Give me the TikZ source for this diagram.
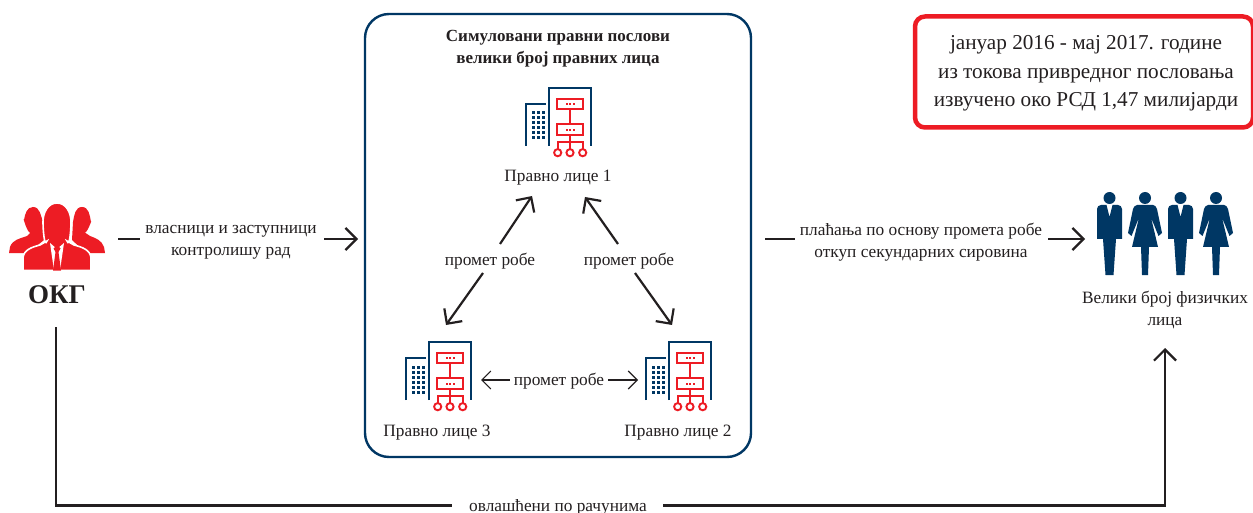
\documentclass[tikz,border=0pt]{standalone}
\usepackage{fontspec}
\setmainfont{Liberation Serif}
\usetikzlibrary{arrows.meta}
\definecolor{navy}{HTML}{003764}
\definecolor{redc}{HTML}{ED1C24}
\definecolor{ink}{HTML}{231F20}
\tikzset{
  x=1pt,y=-1pt,
  lab/.style={font=\fontsize{17.3}{22}\selectfont,text=ink,align=center,inner sep=0pt},
  conn/.style={draw=ink,line width=2.2pt,-{Straight Barb[length=11pt,width=22pt,line width=2.2pt]}},
  thin conn/.style={draw=ink,line width=1.1pt,-{Straight Barb[length=9pt,width=18pt,line width=1.1pt]}},
  stub/.style={draw=ink,line width=2.2pt},
  office/.pic={
    \draw[navy,line width=2.4pt] (0,58)--(0,0)--(42,0)--(42,58);
    \draw[navy,line width=2.4pt] (-23,58)--(-23,16)--(-3,16);
    \foreach \a in {-16,-11,-6}\foreach \b in {25,30,35,40,45,50}{\fill[navy] (\a-1.5,\b-1.5) rectangle (\a+1.5,\b+1.5);}
    \draw[redc,line width=1.9pt] (8,10.7) rectangle (34,20.7) (8,36) rectangle (34,47);
    \draw[redc,line width=1.9pt] (21,20.7)--(21,36) (21,47)--(21,61) (8.7,61)--(8.7,53.7)--(33.7,53.7)--(33.7,61);
    \foreach \a in {17.5,21,24.5}{\fill[redc] (\a-1,15)rectangle(\a+1,17);\fill[redc] (\a-1,41)rectangle(\a+1,43);}
    \foreach \a in {8.7,21,33.7}{\draw[redc,line width=1.9pt,fill=white] (\a,64.7) circle (3.6);}
  },
  man/.pic={
    \fill[navy] (0,-7) circle (6);
    \fill[navy] (-12.5,4) arc (180:270:4)--(-3,0)--(0,12)--(3,0)--(8.5,0) arc (270:360:4)--(12.5,34)--(6.5,34)--(4,70)--(-4,70)--(-6.5,34)--(-12.5,34)--cycle;
  },
  woman/.pic={
    \fill[navy] (0,-7) circle (6);
    \fill[navy] (-8,0)--(8,0) to[out=0,in=115] (12,4)--(17,28)--(13.5,31)--(6,12.5)--(13,42)--(4,42)--(3,70)--(-3,70)--(-4,42)--(-13,42)--(-6,12.5)--(-13.5,31)--(-17,28)--(-12,4) to[out=65,in=180] (-8,0)--cycle;
  }
}
\begin{document}
\begin{tikzpicture}
\useasboundingbox (0,0) rectangle (1253,513);
\fill[white] (0,0) rectangle (1253,513);
% central panel
\node[draw=navy,line width=2.4pt,rounded corners=24pt,minimum width=386pt,minimum height=443pt,inner sep=0pt] (panel) at (558,235.5) {};
\node[lab,font=\fontsize{17}{22}\selectfont\bfseries] (title) at (558,48.5) {Симуловани правни послови\\велики број правних лица};
% note box
\node[draw=redc,line width=4.5pt,rounded corners=10pt,minimum width=338pt,minimum height=111pt,inner sep=0pt] (note) at (1084,72) {};
\node[lab,font=\fontsize{21.2}{28.5}\selectfont] (notetext) at (1086,73.5) {јануар 2016 - мај 2017. године\\из токова привредног пословања\\извучено око РСД 1,47 милијарди};
% buildings
\pic at (549,88) {office};
\pic at (429,342) {office};
\pic at (669,342) {office};
\node[lab] (e1) at (558,178) {Правно лице 1};
\node[lab] (e3) at (437,433) {Правно лице 3};
\node[lab] (e2) at (678,433) {Правно лице 2};
% triangle
\node[lab] (t1) at (490,261) {промет робе};
\node[lab] (t2) at (629,261) {промет робе};
\node[lab,outer sep=4pt] (t3) at (559,381) {промет робе};
\coordinate (a1) at (532,196); \coordinate (a3) at (446,325);
\coordinate (b1) at (585,197); \coordinate (b2) at (672,325);
\coordinate (a1s) at (500,244); \coordinate (a3s) at (483,273);
\coordinate (b1s) at (618,244); \coordinate (b2s) at (635,273);
\draw[conn] (a1s) -- (a1);
\draw[conn] (a3s) -- (a3);
\draw[conn] (b1s) -- (b1);
\draw[conn] (b2s) -- (b2);
\coordinate (c3) at (481,380); \coordinate (c2) at (638,380);
\draw[thin conn] (t3.west |- c3) -- (c3);
\draw[thin conn] (t3.east |- c2) -- (c2);
% OKG
\fill[redc] (9,253) -- (10,247) to[out=70,in=200] (27,236) -- (31,232) to[out=-120,in=110] (24,220) to[out=80,in=180] (33,207) to[out=0,in=110] (43,222) -- (44,240) -- (28,253) -- cycle;
\fill[redc] (105,253) -- (104,247) to[out=110,in=-20] (90,236) -- (84,232) to[out=-60,in=70] (91,222) to[out=100,in=0] (82,207) to[out=180,in=80] (73,222) -- (72,240) -- (86,253) -- cycle;
\fill[redc,draw=white,line width=1.6pt] (23,270.5) -- (23,258) to[out=85,in=195] (40,245) -- (47,241) to[out=-110,in=-90] (43,222) to[out=90,in=180] (57,203) to[out=0,in=90] (71,222) to[out=-90,in=-70] (67,241) -- (74,245) to[out=-15,in=95] (91,258) -- (91,270.5) -- cycle;
\fill[white] (50,243) -- (57,249) -- (64,243) -- (60,270.5) -- (54,270.5) -- cycle;
\fill[redc] (57,245) -- (60.5,248.5) -- (58.5,252) -- (61,270.5) -- (53,270.5) -- (55.5,252) -- (53.5,248.5) -- cycle;
\node[lab,font=\fontsize{27}{30}\selectfont\bfseries] (okg) at (57,294.5) {ОКГ};
\coordinate (okgr) at (118,239);
\node[lab] (own) at (231,242) {власници и заступници\\контролишу рад};
\draw[stub] (okgr) -- (140,239);
\coordinate (ownend) at (358,239); \coordinate (ownstart) at (324,239);
\draw[conn] (ownstart) -- (ownend);
% right
\node[lab] (pay) at (921,242) {плаћања по основу промета робе\\откуп секундарних сировина};
\coordinate (pl) at (765,239); \coordinate (pm) at (795,239);
\draw[stub] (pl) -- (pm);
\coordinate (ps) at (1048,239); \coordinate (pe) at (1085,239);
\draw[conn] (ps) -- (pe);
\pic at (1109.5,205) {man};
\pic at (1145,205) {woman};
\pic at (1180.5,205) {man};
\pic at (1216,205) {woman};
\node[lab] (people) at (1165,310) {Велики број физичких\\лица};
% bottom
\node[lab] (acct) at (558,507) {овлашћени по рачунима};
\coordinate (o0) at (56,327); \coordinate (o1) at (56,505.5);
\coordinate (o2) at (1165,505.5); \coordinate (o3) at (1165,348);
\coordinate (g1) at (452,505.5); \coordinate (g2) at (663,505.5);
\draw[stub] (o0) -- (o1) -- (g1);
\draw[conn] (g2) -- (o2) -- (o3);
\end{tikzpicture}
\end{document}
